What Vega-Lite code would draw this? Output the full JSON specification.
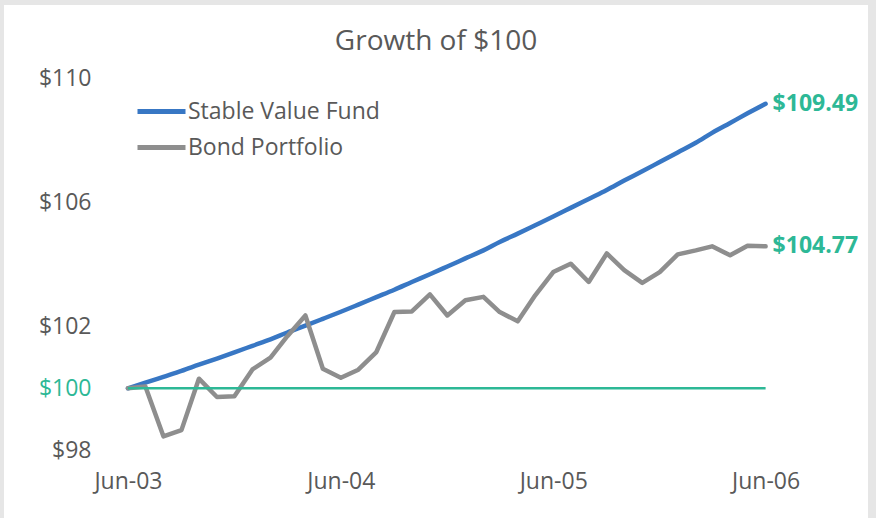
{
  "$schema": "https://vega.github.io/schema/vega-lite/v6.json",
  "width": 864,
  "height": 513,
  "autosize": {"type": "none"},
  "padding": {"left": 4, "top": 5, "right": 8, "bottom": 0},
  "background": "#e6e6e6",
  "view": {"fill": "#ffffff", "stroke": null},
  "title": {"text": "Growth of $100", "fontSize": 28, "font": "Open Sans", "fontWeight": "normal", "color": "#595959", "anchor": "middle", "frame": "group", "baseline": "middle", "offset": -65},
  "config": {"font": "Open Sans"},
  "datasets": {
    "series": [
      {"date": "2003-06-01T00:00:00", "series": "Stable Value Fund", "value": 100.00},
      {"date": "2003-07-01T00:00:00", "series": "Stable Value Fund", "value": 100.18},
      {"date": "2003-08-01T00:00:00", "series": "Stable Value Fund", "value": 100.37},
      {"date": "2003-09-01T00:00:00", "series": "Stable Value Fund", "value": 100.56},
      {"date": "2003-10-01T00:00:00", "series": "Stable Value Fund", "value": 100.76},
      {"date": "2003-11-01T00:00:00", "series": "Stable Value Fund", "value": 100.96},
      {"date": "2003-12-01T00:00:00", "series": "Stable Value Fund", "value": 101.16},
      {"date": "2004-01-01T00:00:00", "series": "Stable Value Fund", "value": 101.37},
      {"date": "2004-02-01T00:00:00", "series": "Stable Value Fund", "value": 101.58},
      {"date": "2004-03-01T00:00:00", "series": "Stable Value Fund", "value": 101.80},
      {"date": "2004-04-01T00:00:00", "series": "Stable Value Fund", "value": 102.02},
      {"date": "2004-05-01T00:00:00", "series": "Stable Value Fund", "value": 102.24},
      {"date": "2004-06-01T00:00:00", "series": "Stable Value Fund", "value": 102.47},
      {"date": "2004-07-01T00:00:00", "series": "Stable Value Fund", "value": 102.70},
      {"date": "2004-08-01T00:00:00", "series": "Stable Value Fund", "value": 102.94},
      {"date": "2004-09-01T00:00:00", "series": "Stable Value Fund", "value": 103.18},
      {"date": "2004-10-01T00:00:00", "series": "Stable Value Fund", "value": 103.43},
      {"date": "2004-11-01T00:00:00", "series": "Stable Value Fund", "value": 103.68},
      {"date": "2004-12-01T00:00:00", "series": "Stable Value Fund", "value": 103.93},
      {"date": "2005-01-01T00:00:00", "series": "Stable Value Fund", "value": 104.19},
      {"date": "2005-02-01T00:00:00", "series": "Stable Value Fund", "value": 104.45},
      {"date": "2005-03-01T00:00:00", "series": "Stable Value Fund", "value": 104.72},
      {"date": "2005-04-01T00:00:00", "series": "Stable Value Fund", "value": 104.99},
      {"date": "2005-05-01T00:00:00", "series": "Stable Value Fund", "value": 105.26},
      {"date": "2005-06-01T00:00:00", "series": "Stable Value Fund", "value": 105.54},
      {"date": "2005-07-01T00:00:00", "series": "Stable Value Fund", "value": 105.82},
      {"date": "2005-08-01T00:00:00", "series": "Stable Value Fund", "value": 106.11},
      {"date": "2005-09-01T00:00:00", "series": "Stable Value Fund", "value": 106.40},
      {"date": "2005-10-01T00:00:00", "series": "Stable Value Fund", "value": 106.70},
      {"date": "2005-11-01T00:00:00", "series": "Stable Value Fund", "value": 107.00},
      {"date": "2005-12-01T00:00:00", "series": "Stable Value Fund", "value": 107.30},
      {"date": "2006-01-01T00:00:00", "series": "Stable Value Fund", "value": 107.61},
      {"date": "2006-02-01T00:00:00", "series": "Stable Value Fund", "value": 107.92},
      {"date": "2006-03-01T00:00:00", "series": "Stable Value Fund", "value": 108.24},
      {"date": "2006-04-01T00:00:00", "series": "Stable Value Fund", "value": 108.56},
      {"date": "2006-05-01T00:00:00", "series": "Stable Value Fund", "value": 108.87},
      {"date": "2006-06-01T00:00:00", "series": "Stable Value Fund", "value": 109.18},
      {"date": "2003-06-01T00:00:00", "series": "Bond Portfolio", "value": 100.00},
      {"date": "2003-07-01T00:00:00", "series": "Bond Portfolio", "value": 100.06},
      {"date": "2003-08-01T00:00:00", "series": "Bond Portfolio", "value": 98.45},
      {"date": "2003-09-01T00:00:00", "series": "Bond Portfolio", "value": 98.65},
      {"date": "2003-10-01T00:00:00", "series": "Bond Portfolio", "value": 100.31},
      {"date": "2003-11-01T00:00:00", "series": "Bond Portfolio", "value": 99.72},
      {"date": "2003-12-01T00:00:00", "series": "Bond Portfolio", "value": 99.74},
      {"date": "2004-01-01T00:00:00", "series": "Bond Portfolio", "value": 100.61},
      {"date": "2004-02-01T00:00:00", "series": "Bond Portfolio", "value": 100.99},
      {"date": "2004-03-01T00:00:00", "series": "Bond Portfolio", "value": 101.68},
      {"date": "2004-04-01T00:00:00", "series": "Bond Portfolio", "value": 102.35},
      {"date": "2004-05-01T00:00:00", "series": "Bond Portfolio", "value": 100.63},
      {"date": "2004-06-01T00:00:00", "series": "Bond Portfolio", "value": 100.34},
      {"date": "2004-07-01T00:00:00", "series": "Bond Portfolio", "value": 100.60},
      {"date": "2004-08-01T00:00:00", "series": "Bond Portfolio", "value": 101.17},
      {"date": "2004-09-01T00:00:00", "series": "Bond Portfolio", "value": 102.46},
      {"date": "2004-10-01T00:00:00", "series": "Bond Portfolio", "value": 102.48},
      {"date": "2004-11-01T00:00:00", "series": "Bond Portfolio", "value": 103.03},
      {"date": "2004-12-01T00:00:00", "series": "Bond Portfolio", "value": 102.35},
      {"date": "2005-01-01T00:00:00", "series": "Bond Portfolio", "value": 102.84},
      {"date": "2005-02-01T00:00:00", "series": "Bond Portfolio", "value": 102.95},
      {"date": "2005-03-01T00:00:00", "series": "Bond Portfolio", "value": 102.46},
      {"date": "2005-04-01T00:00:00", "series": "Bond Portfolio", "value": 102.16},
      {"date": "2005-05-01T00:00:00", "series": "Bond Portfolio", "value": 103.00},
      {"date": "2005-06-01T00:00:00", "series": "Bond Portfolio", "value": 103.75},
      {"date": "2005-07-01T00:00:00", "series": "Bond Portfolio", "value": 104.02},
      {"date": "2005-08-01T00:00:00", "series": "Bond Portfolio", "value": 103.43},
      {"date": "2005-09-01T00:00:00", "series": "Bond Portfolio", "value": 104.35},
      {"date": "2005-10-01T00:00:00", "series": "Bond Portfolio", "value": 103.81},
      {"date": "2005-11-01T00:00:00", "series": "Bond Portfolio", "value": 103.40},
      {"date": "2005-12-01T00:00:00", "series": "Bond Portfolio", "value": 103.75},
      {"date": "2006-01-01T00:00:00", "series": "Bond Portfolio", "value": 104.32},
      {"date": "2006-02-01T00:00:00", "series": "Bond Portfolio", "value": 104.45},
      {"date": "2006-03-01T00:00:00", "series": "Bond Portfolio", "value": 104.58},
      {"date": "2006-04-01T00:00:00", "series": "Bond Portfolio", "value": 104.29},
      {"date": "2006-05-01T00:00:00", "series": "Bond Portfolio", "value": 104.60},
      {"date": "2006-06-01T00:00:00", "series": "Bond Portfolio", "value": 104.58}
    ],
    "base": [
      {"date": "2003-06-01T00:00:00", "value": 100},
      {"date": "2006-06-01T00:00:00", "value": 100}
    ],
    "ends": [
      {"date": "2006-06-01T00:00:00", "value": 109.18, "label": "$109.49"},
      {"date": "2006-06-01T00:00:00", "value": 104.58, "label": "$104.77"}
    ]
  },
  "encoding": {
    "x": {
      "field": "date",
      "type": "temporal",
      "scale": {"domain": [{"year": 2002, "month": 10, "date": 31}, {"year": 2006, "month": 11, "date": 24}], "nice": false},
      "axis": {
        "values": [{"year": 2003, "month": 6, "date": 1}, {"year": 2004, "month": 6, "date": 1}, {"year": 2005, "month": 6, "date": 1}, {"year": 2006, "month": 6, "date": 1}],
        "format": "%b-%y",
        "title": null,
        "domain": false,
        "ticks": false,
        "grid": false,
        "labelPadding": 0,
        "labelBaseline": "middle",
        "labelAlign": "center",
        "offset": -37,
        "labelFontSize": 23,
        "labelFont": "Open Sans",
        "labelColor": "#595959",
        "labelFlush": false,
        "labelOverlap": false
      }
    },
    "y": {
      "field": "value",
      "type": "quantitative",
      "scale": {"domain": [95.816, 112.365], "nice": false, "zero": false},
      "axis": {
        "values": [98, 100, 102, 106, 110],
        "labelExpr": "'$' + datum.value",
        "title": null,
        "domain": false,
        "ticks": false,
        "grid": false,
        "labelPadding": 0,
        "labelBaseline": "middle",
        "offset": -87,
        "labelFontSize": 23,
        "labelFont": "Open Sans",
        "labelColor": {"condition": {"test": "datum.value === 100", "value": "#2db896"}, "value": "#595959"},
        "labelOverlap": false
      }
    }
  },
  "layer": [
    {
      "data": {"name": "series"},
      "transform": [{"filter": "datum.series === 'Stable Value Fund'"}],
      "mark": {"type": "line", "strokeWidth": 4.5, "strokeJoin": "round", "strokeCap": "round", "interpolate": "monotone"},
      "encoding": {
        "color": {
          "field": "series",
          "type": "nominal",
          "scale": {"domain": ["Stable Value Fund", "Bond Portfolio"], "range": ["#3877c4", "#8e8e8e"]},
          "sort": null,
          "legend": {
            "title": null,
            "orient": "none",
            "legendX": 143,
            "legendY": 92,
            "padding": 0,
            "symbolType": "M-2,0H2",
            "symbolSize": 576,
            "symbolStrokeWidth": 5,
            "labelOffset": 12,
            "labelLimit": 400,
            "labelFontSize": 23,
            "labelFont": "Open Sans",
            "labelColor": "#595959",
            "rowPadding": 9
          }
        }
      }
    },
    {
      "data": {"name": "series"},
      "transform": [{"filter": "datum.series === 'Bond Portfolio'"}],
      "mark": {"type": "line", "strokeWidth": 4.5, "strokeJoin": "round", "strokeCap": "round"},
      "encoding": {
        "color": {"field": "series", "type": "nominal", "sort": null}
      }
    },
    {
      "data": {"name": "base"},
      "mark": {"type": "line", "strokeWidth": 2.5, "color": "#2db896"},
      "encoding": {}
    },
    {
      "data": {"name": "ends"},
      "mark": {"type": "text", "align": "left", "baseline": "middle", "dx": 7, "fontSize": 23, "fontWeight": "bold", "font": "Open Sans", "color": "#2db896"},
      "encoding": {"text": {"field": "label"}}
    }
  ]
}
